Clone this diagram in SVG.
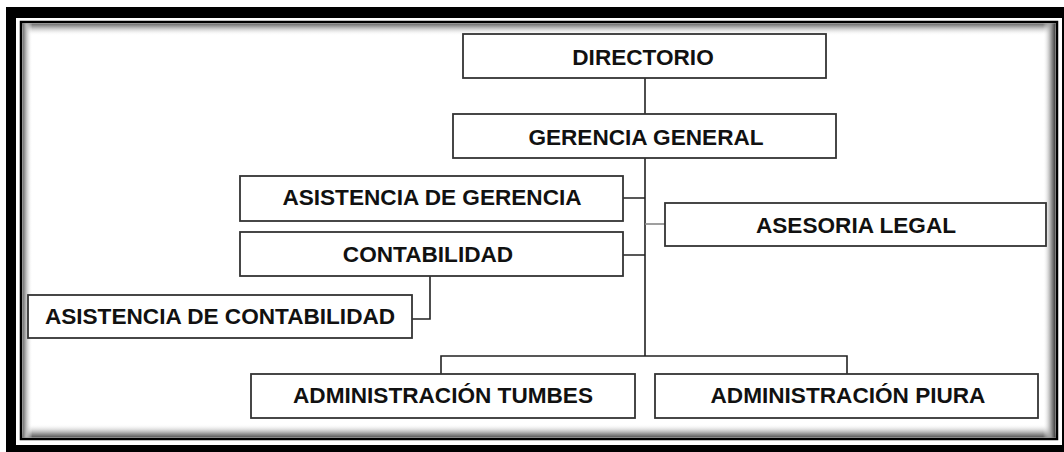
<svg xmlns="http://www.w3.org/2000/svg" width="1064" height="452" viewBox="0 0 1064 452">
<defs>
<linearGradient id="gT" x1="0" y1="0" x2="0" y2="1"><stop offset="0" stop-color="#6a6a6a"/><stop offset="0.35" stop-color="#b8b8b8"/><stop offset="1" stop-color="#fff" stop-opacity="0"/></linearGradient>
<linearGradient id="gB" x1="0" y1="1" x2="0" y2="0"><stop offset="0" stop-color="#555"/><stop offset="0.35" stop-color="#aaa"/><stop offset="1" stop-color="#fff" stop-opacity="0"/></linearGradient>
<linearGradient id="gL" x1="0" y1="0" x2="1" y2="0"><stop offset="0" stop-color="#6a6a6a"/><stop offset="0.35" stop-color="#b8b8b8"/><stop offset="1" stop-color="#fff" stop-opacity="0"/></linearGradient>
<linearGradient id="gR" x1="1" y1="0" x2="0" y2="0"><stop offset="0" stop-color="#3a3a3a"/><stop offset="0.35" stop-color="#9a9a9a"/><stop offset="1" stop-color="#fff" stop-opacity="0"/></linearGradient>
</defs>
<style>
.box{fill:#fff;stroke:#333;stroke-width:1.8}
.lbl{font-family:"Liberation Sans",Arial,sans-serif;font-weight:bold;font-size:22.6px;fill:#111;text-anchor:middle}
.ln{stroke:#222;stroke-width:1.6;fill:none}
.lg{stroke:#888;stroke-width:1.6;fill:none}
</style>
<g id="frame">
<rect x="6" y="7" width="1058" height="445" fill="#000"/>
<rect x="16" y="18" width="1046" height="427" fill="#fff"/>
<rect x="21" y="22" width="1036" height="417" fill="#fff" stroke="#000" stroke-width="2.5"/>
<rect x="22.5" y="23.5" width="1033" height="12" fill="url(#gT)"/>
<rect x="22.5" y="424" width="1033" height="13.5" fill="url(#gB)"/>
<rect x="22.5" y="23.5" width="10" height="414" fill="url(#gL)"/>
<rect x="1043" y="23.5" width="12.5" height="414" fill="url(#gR)"/>
</g>
<g id="connectors">
<path class="ln" d="M645 78V114M645 158V356M623 198H645M623 255H645M430 276V319H412M441 374V356H847V374"/>
<path class="lg" d="M645 224H665"/>
</g>
<g id="directorio"><rect class="box" x="463" y="34" width="363" height="44"/><text class="lbl" x="643" y="65">DIRECTORIO</text></g>
<g id="gerencia-general"><rect class="box" x="453" y="114" width="383" height="44"/><text class="lbl" x="646" y="145">GERENCIA GENERAL</text></g>
<g id="asistencia-gerencia"><rect class="box" x="240" y="176" width="383" height="45"/><text class="lbl" x="432" y="205">ASISTENCIA DE GERENCIA</text></g>
<g id="contabilidad"><rect class="box" x="240" y="232" width="383" height="44"/><text class="lbl" x="428" y="262">CONTABILIDAD</text></g>
<g id="asesoria-legal"><rect class="box" x="665" y="203" width="381" height="43"/><text class="lbl" x="856" y="233">ASESORIA LEGAL</text></g>
<g id="asistencia-contabilidad"><rect class="box" x="28" y="295" width="384" height="43"/><text class="lbl" x="220" y="324">ASISTENCIA DE CONTABILIDAD</text></g>
<g id="admin-tumbes"><rect class="box" x="251" y="374" width="384" height="44"/><text class="lbl" x="443" y="403">ADMINISTRACIÓN TUMBES</text></g>
<g id="admin-piura"><rect class="box" x="655" y="374" width="383" height="44"/><text class="lbl" x="848" y="403">ADMINISTRACIÓN PIURA</text></g>
</svg>
